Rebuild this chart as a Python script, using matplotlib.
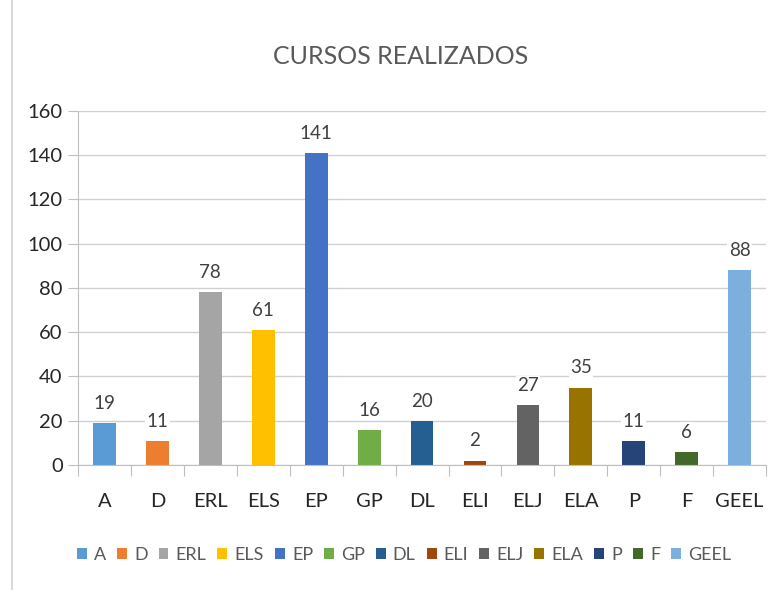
import matplotlib.pyplot as plt
from matplotlib.patches import Patch
from matplotlib.lines import Line2D

cursos = ['A', 'D', 'ERL', 'ELS', 'EP', 'GP', 'DL', 'ELI', 'ELJ', 'ELA', 'P', 'F', 'GEEL']
valores = [19, 11, 78, 61, 141, 16, 20, 2, 27, 35, 11, 6, 88]
colores = ['#5B9BD5', '#ED7D31', '#A5A5A5', '#FFC000', '#4472C4', '#70AD47', '#255E91',
           '#9E480E', '#636363', '#997300', '#264478', '#43682B', '#7CAFDD']
yticks = [0, 20, 40, 60, 80, 100, 120, 140, 160]

plt.rcParams['font.family'] = ['Lato', 'DejaVu Sans']

fig = plt.figure(figsize=(7.77, 5.9), dpi=100)
ax = fig.add_axes([0.1004, 0.2119, 0.8856, 0.6])

x = list(range(len(cursos)))
ax.bar(x, valores, width=0.43, color=colores, zorder=2)
for xi, v in zip(x, valores):
    ax.text(xi, v + 5, str(v), ha='center', va='bottom', fontsize=13.5, color='#404040',
            bbox=dict(facecolor='white', edgecolor='none', pad=1), zorder=3)

ax.set_xlim(-0.5, len(cursos) - 0.5)
ax.set_ylim(0, 160)
ax.set_yticks(yticks)
ax.tick_params(axis='y', length=7, color='#BFBFBF', labelsize=14.5, labelcolor='#262626', pad=4)
ax.yaxis.grid(True, color='#D0D0D0', lw=1, zorder=0)
ax.set_axisbelow(True)

ax.set_xticks([i - 0.5 for i in range(len(cursos) + 1)])
ax.set_xticklabels([])
ax.set_xticks(x, minor=True)
ax.set_xticklabels(cursos, minor=True)
ax.tick_params(axis='x', which='major', length=8, color='#BFBFBF')
ax.tick_params(axis='x', which='minor', length=0, labelsize=14.5, labelcolor='#262626', pad=20)

for s in ['top', 'right']:
    ax.spines[s].set_visible(False)
ax.spines['left'].set_color('#BFBFBF')
ax.spines['bottom'].set_color('#BFBFBF')

fig.text(0.515, 0.905, 'CURSOS REALIZADOS', ha='center', va='center', fontsize=18, color='#595959')

handles = [Patch(facecolor=c, edgecolor='none') for c in colores]
fig.legend(handles, cursos, loc='center', bbox_to_anchor=(0.52, 0.059), ncol=len(cursos),
           frameon=False, fontsize=13, labelcolor='#595959', handlelength=0.55, handleheight=0.55,
           handletextpad=0.4, columnspacing=0.6)

fig.add_artist(Line2D([0.0155, 0.0155], [0, 1], color='#D9D9D9', lw=1.5))

plt.savefig('out.png')
